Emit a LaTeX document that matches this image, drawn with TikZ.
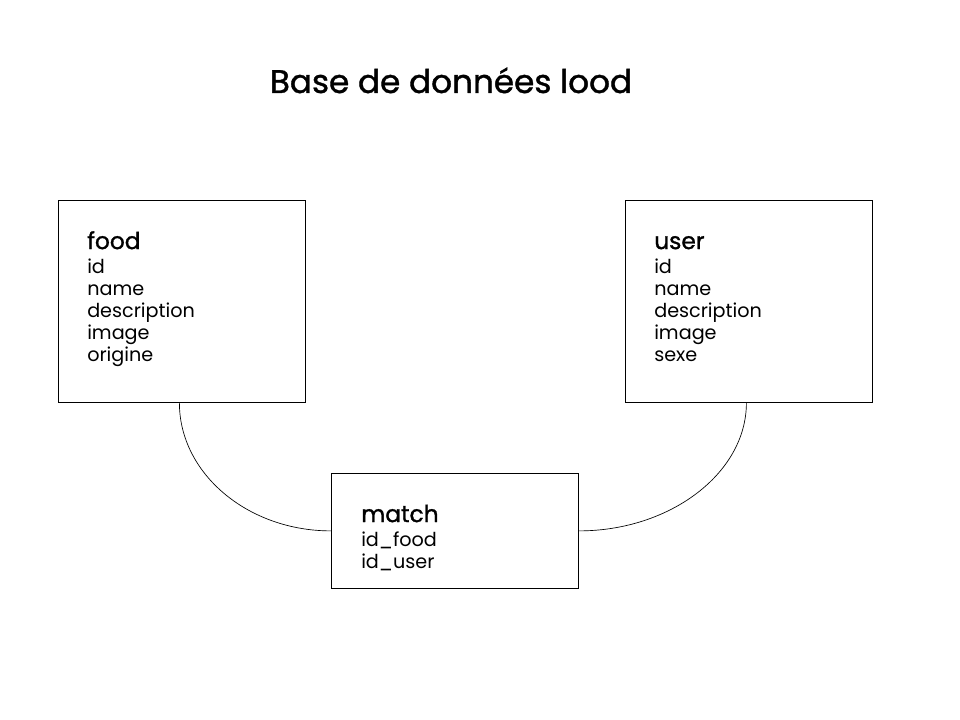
\documentclass[tikz,border=0pt]{standalone}
\usepackage{fontspec}
\setmainfont{Poppins}
\newfontfamily\headfont{Poppins}[FakeBold=1.2]
\begin{document}
\begin{tikzpicture}[x=0.75pt,y=-0.75pt,
  tbl/.style={draw=black,line width=0.6pt,minimum width=247*0.75pt,minimum height=#1,inner sep=0pt,anchor=north west},
  fields/.style={anchor=north west,align=left,inner sep=0pt,font=\fontsize{14.4}{16.5}\selectfont},
  link/.style={draw=black,line width=0.5pt}]
\useasboundingbox (0,0) rectangle (960,720);
\fill[white] (0,0) rectangle (960,720);
\node[anchor=base,font=\headfont\fontsize{24.5}{28}\selectfont] (title) at (451,93) {Base de données lood};

\node[tbl=202*0.75pt] (food) at (58,200) {};
\node[tbl=202*0.75pt] (user) at (625,200) {};
\node[tbl=115*0.75pt] (match) at (331,473) {};

\node[fields] (foodtxt) at (87,231) {{\headfont\fontsize{17.5}{18}\selectfont food\vphantom{fd}}\\[1.5pt]id\\name\\description\\image\\origine};
\node[fields] (usertxt) at (654,231) {{\headfont\fontsize{17.5}{18}\selectfont user\vphantom{fd}}\\[1.5pt]id\\name\\description\\image\\sexe};
\node[fields] (matchtxt) at (361,504) {{\headfont\fontsize{17.5}{18}\selectfont match\vphantom{fd}}\\[1.5pt]id\_food\\id\_user};

\coordinate (fs) at ([xshift=-2.5*0.75pt]food.south);
\coordinate (us) at ([xshift=-2.5*0.75pt]user.south);
\path[link] (fs) .. controls ([yshift=-0.55*128*0.75pt]fs) and ([xshift=-0.55*152*0.75pt]match.west) .. (match.west);
\path[link] (us) .. controls ([yshift=-0.55*128*0.75pt]us) and ([xshift=0.55*166*0.75pt]match.east) .. (match.east);
\end{tikzpicture}
\end{document}
